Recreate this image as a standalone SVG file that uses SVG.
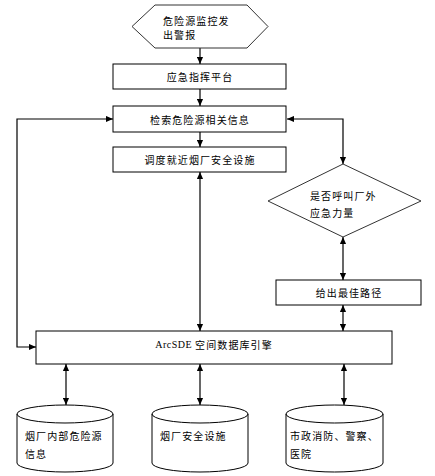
<svg xmlns="http://www.w3.org/2000/svg" width="435" height="476" viewBox="0 0 435 476">
<defs>
<style>
.s{fill:#fff;stroke:#000;stroke-width:1}
.t{font-family:"Noto Sans CJK SC","Noto Sans CJK JP",sans-serif;font-size:10px;letter-spacing:1.1px;fill:#000;dominant-baseline:central}
.m{text-anchor:middle}
.c{fill:none;stroke:#000;stroke-width:1.2}
</style>
<marker id="a" viewBox="0 0 8 8" refX="8" refY="4" markerWidth="7" markerHeight="7" markerUnits="userSpaceOnUse" orient="auto-start-reverse">
<path d="M0,0.5 L8,4 L0,7.5 Z" fill="#000"/>
</marker>
</defs>
<rect width="435" height="476" fill="#fff"/>
<g id="connectors">
<line class="c" x1="200" y1="48" x2="200" y2="64" marker-end="url(#a)"/>
<line class="c" x1="200" y1="89" x2="200" y2="106" marker-end="url(#a)"/>
<line class="c" x1="200" y1="132" x2="200" y2="147" marker-end="url(#a)"/>
<polyline class="c" points="113,119 17,119 17,347 36,347" marker-start="url(#a)" marker-end="url(#a)"/>
<polyline class="c" points="287,119 343,119 343,164" marker-start="url(#a)" marker-end="url(#a)"/>
<line class="c" x1="343" y1="237" x2="343" y2="280" marker-start="url(#a)" marker-end="url(#a)"/>
<line class="c" x1="343" y1="305" x2="343" y2="331" marker-start="url(#a)" marker-end="url(#a)"/>
<line class="c" x1="200" y1="172" x2="200" y2="331" marker-start="url(#a)" marker-end="url(#a)"/>
<line class="c" x1="66" y1="364" x2="66" y2="405" marker-start="url(#a)" marker-end="url(#a)"/>
<line class="c" x1="200" y1="364" x2="200" y2="405" marker-start="url(#a)" marker-end="url(#a)"/>
<line class="c" x1="344" y1="364" x2="344" y2="405" marker-start="url(#a)" marker-end="url(#a)"/>
</g>
<g id="n_alarm">
<polygon points="155,5 247,5 268,26.5 247,48 155,48 132,26.5" fill="#fff" stroke="#333" stroke-width="1"/>
<text class="t" x="163" y="20">危险源监控发</text>
<text class="t" x="163" y="34">出警报</text>
</g>
<g id="n_platform">
<rect class="s" x="113" y="64" width="173" height="25"/>
<text class="t m" x="200" y="76.5">应急指挥平台</text>
</g>
<g id="n_search">
<rect class="s" x="113" y="106" width="173" height="26"/>
<text class="t m" x="200" y="119">检索危险源相关信息</text>
</g>
<g id="n_dispatch">
<rect class="s" x="113" y="147" width="173" height="25"/>
<text class="t m" x="200" y="159.5">调度就近烟厂安全设施</text>
</g>
<g id="n_decision">
<polygon points="343,164 421,201 343,237 268,201" fill="#fff" stroke="#333" stroke-width="1"/>
<text class="t" x="310" y="195">是否呼叫厂外</text>
<text class="t" x="310" y="212">应急力量</text>
</g>
<g id="n_route">
<rect class="s" x="276" y="280" width="145" height="25"/>
<text class="t m" x="349" y="292.5">给出最佳路径</text>
</g>
<g id="n_arcsde">
<rect class="s" x="36" y="331" width="356" height="33"/>
<text class="t m" x="214" y="344"><tspan font-family="Liberation Serif" letter-spacing="0.5">ArcSDE </tspan>空间数据库引擎</text>
</g>
<g id="db_hazard">
<path class="s" d="M17,414 A48,9 0 0 1 113,414 L113,463 A48,9 0 0 1 17,463 Z"/>
<path d="M17,414 A48,9 0 0 0 113,414" fill="none" stroke="#000"/>
<text class="t" x="25" y="435">烟厂内部危险源</text>
<text class="t" x="25" y="453">信息</text>
</g>
<g id="db_safety">
<path class="s" d="M152,414 A48,9 0 0 1 248,414 L248,463 A48,9 0 0 1 152,463 Z"/>
<path d="M152,414 A48,9 0 0 0 248,414" fill="none" stroke="#000"/>
<text class="t" x="160" y="435">烟厂安全设施</text>
</g>
<g id="db_city">
<path class="s" d="M286,414 A48.5,9 0 0 1 383,414 L383,463 A48.5,9 0 0 1 286,463 Z"/>
<path d="M286,414 A48.5,9 0 0 0 383,414" fill="none" stroke="#000"/>
<text class="t" x="290" y="435">市政消防、警察、</text>
<text class="t" x="290" y="453">医院</text>
</g>
</svg>
